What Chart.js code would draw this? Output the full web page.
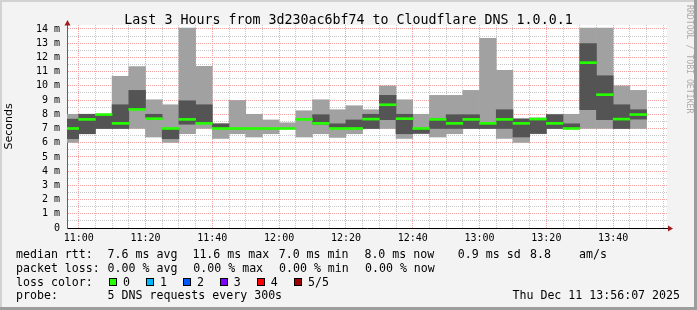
<!DOCTYPE html>
<html>
<head>
<meta charset="utf-8">
<script src="https://cdn.jsdelivr.net/npm/chart.js@4.4.1/dist/chart.umd.min.js"></script>
<style>
  html, body { margin: 0; padding: 0; background: #f3f3f3; }
</style>
</head>
<body>
<canvas id="smoke" width="697" height="310"></canvas>
<script>
// start of each 5 minute slot
var slots = ['10:55', '11:00', '11:05', '11:10', '11:15', '11:20', '11:25', '11:30', '11:35', '11:40',
             '11:45', '11:50', '11:55', '12:00', '12:05', '12:10', '12:15', '12:20', '12:25', '12:30',
             '12:35', '12:40', '12:45', '12:50', '12:55', '13:00', '13:05', '13:10', '13:15', '13:20',
             '13:25', '13:30', '13:35', '13:40', '13:45'];
var slotLength = 5; // minutes

// the 5 sorted pings per slot (ms)
var pingMin = [6.02, 6.63, 7.0, 7.0, 7.0, 6.4, 6.02, 6.63, 7.0, 6.3, 6.63, 6.4, 6.63, 7.0, 6.4, 6.63, 6.37, 6.63,
               7.0, 7.0, 6.3, 6.63, 6.4, 6.63, 7.0, 7.0, 6.3, 6.02, 6.63, 7.0, 7.0, 7.0, 7.0, 7.0, 7.0];
var ping2   = [6.28, 6.63, 7.0, 7.0, 8.34, 7.69, 6.28, 7.3, 7.36, 7.0, 7.0, 7.0, 7.0, 7.0, 7.64, 7.3, 7.0, 7.0,
               7.0, 7.62, 6.63, 6.66, 7.0, 7.0, 7.0, 7.0, 7.0, 6.4, 6.65, 7.0, 7.0, 8.32, 7.62, 7.0, 7.66];
var median  = [7.0, 7.64, 7.98, 7.36, 8.34, 7.69, 7.0, 7.64, 7.36, 7.0, 7.0, 7.0, 7.0, 7.0, 7.64, 7.36, 7.0, 7.0,
               7.66, 8.67, 7.69, 7.0, 7.64, 7.36, 7.64, 7.36, 7.64, 7.36, 7.66, 7.36, 7.0, 11.63, 9.38, 7.66, 7.98];
var ping4   = [7.66, 8.0, 8.0, 8.67, 9.68, 8.0, 7.0, 8.95, 8.67, 7.33, 7.0, 7.0, 7.0, 7.0, 7.64, 7.97, 7.33, 7.6,
               8.0, 9.33, 8.0, 7.0, 7.7, 7.97, 7.97, 7.4, 8.32, 7.66, 7.7, 7.97, 7.33, 12.97, 10.71, 8.67, 8.32];
var pingMax = [8.0, 8.0, 8.0, 10.67, 11.35, 9.02, 8.67, 14.07, 11.37, 7.33, 8.97, 8.0, 7.6, 7.4, 8.25, 9.02, 8.32, 8.6,
               8.32, 10.0, 9.02, 8.0, 9.33, 9.33, 9.68, 13.34, 11.09, 7.7, 7.75, 8.0, 8.0, 14.07, 14.07, 10.0, 9.68];

var timeFrom = '10:56:30';
var timeTo = '13:56:07';
var yMax = 14.28;
var medianHalf = 0.07; // half thickness of the median line (ms)

var titleText = 'Last 3 Hours from 3d230ac6bf74 to Cloudflare DNS 1.0.0.1';
var lossLabels = ['0', '1', '2', '3', '4', '5/5'];
var lossColors = ['#26ff00', '#00b8ff', '#0059ff', '#7e00ff', '#ff0000', '#a10000'];

//turn "hh:mm(:ss)" into minutes after midnight
function toMin(s) {
  var p = s.split(':');
  return (+p[0]) * 60 + (+p[1]) + (p[2] ? (+p[2]) / 60 : 0);
}
function hhmm(m) {
  var h = Math.floor(m / 60), mm = Math.round(m % 60);
  return (h < 10 ? '0' : '') + h + ':' + (mm < 10 ? '0' : '') + mm;
}

var centers = slots.map(function (s) { return toMin(s) + slotLength / 2; });
var outer = centers.map(function (x, i) { return {x: x, y: [pingMin[i], pingMax[i]]}; });
var inner = centers.map(function (x, i) { return {x: x, y: [ping2[i], ping4[i]]}; });
var medLine = centers.map(function (x, i) { return {x: x, y: [median[i] - medianHalf, median[i] + medianHalf]}; });

var mono = '"DejaVu Sans Mono", monospace';

//frame, texts and axis arrows like rrdtool draws them
var rrdLook = {
  id: 'rrdLook',
  beforeDraw: function (chart) {
    var c = chart.ctx, a = chart.chartArea;
    c.save();
    c.fillStyle = '#f3f3f3';
    c.fillRect(0, 0, 697, 310);
    c.fillStyle = '#d2d2d2';
    c.fillRect(0, 0, 697, 2);
    c.fillRect(0, 0, 2, 310);
    c.fillStyle = '#9d9d9d';
    c.fillRect(0, 307, 697, 3);
    c.fillRect(694, 0, 3, 310);
    c.fillStyle = '#ffffff';
    c.fillRect(a.left, a.top, a.right - a.left, a.bottom - a.top);
    c.restore();
  },
  afterDraw: function (chart) {
    var c = chart.ctx, a = chart.chartArea;
    c.save();
    // axis extensions + arrows
    c.strokeStyle = '#000';
    c.lineWidth = 1;
    c.beginPath();
    c.moveTo(a.right, a.bottom + 0.5);
    c.lineTo(a.right + 2, a.bottom + 0.5);
    c.stroke();
    c.strokeStyle = '#606060';
    c.beginPath();
    c.moveTo(a.left + 0.5, a.top);
    c.lineTo(a.left + 0.5, a.top - 3);
    c.stroke();
    c.fillStyle = '#a01c1c';
    c.beginPath();
    c.moveTo(a.right + 6, a.bottom + 0.5);
    c.lineTo(a.right + 1, a.bottom - 2.5);
    c.lineTo(a.right + 1, a.bottom + 3.5);
    c.closePath();
    c.fill();
    c.beginPath();
    c.moveTo(a.left + 0.5, a.top - 5);
    c.lineTo(a.left - 2.5, a.top + 0.5);
    c.lineTo(a.left + 3.5, a.top + 0.5);
    c.closePath();
    c.fill();

    // title
    c.fillStyle = '#000';
    c.font = '13.3px ' + mono;
    c.textAlign = 'center';
    c.textBaseline = 'alphabetic';
    c.fillText(titleText, 348.5, 23.7);

    // watermark
    c.save();
    c.translate(687, 5);
    c.rotate(Math.PI / 2);
    c.font = '8.2px ' + mono;
    c.fillStyle = '#ababab';
    c.textAlign = 'left';
    c.fillText('RRDTOOL / TOBI OETIKER', 0, 0);
    c.restore();

    // legend
    c.font = '11.6px ' + mono;
    c.textAlign = 'left';
    c.fillStyle = '#000';
    var rows = [
      [258, [[16, 'median rtt:'], [107.6, '7.6 ms avg'], [192.4, '11.6 ms max'], [278.7, '7.0 ms min'],
             [364.4, '8.0 ms now'], [457.8, '0.9 ms sd'], [530, '8.8'], [579, 'am/s']]],
      [271.7, [[16, 'packet loss:'], [107.6, '0.00 % avg'], [193.3, '0.00 % max'], [279, '0.00 % min'],
               [365, '0.00 % now']]],
      [285.5, [[16, 'loss color:']]],
      [299.2, [[16, 'probe:'], [107.6, '5 DNS requests every 300s']]]
    ];
    rows.forEach(function (r) {
      r[1].forEach(function (t) { c.fillText(t[1], t[0], r[0]); });
    });
    var boxX = [108.9, 145.8, 182.7, 220, 256.9, 293.8];
    var labX = [123.1, 160, 196.9, 233.8, 270.7, 308];
    for (var i = 0; i < lossLabels.length; i++) {
      c.fillStyle = lossColors[i];
      c.fillRect(Math.round(boxX[i]) + 0.5, 278.5, 7, 7);
      c.strokeStyle = '#000';
      c.strokeRect(Math.round(boxX[i]) + 0.5, 278.5, 7, 7);
      c.fillStyle = '#000';
      c.fillText(lossLabels[i], labX[i], 285.5);
    }
    c.textAlign = 'right';
    c.fillText('Thu Dec 11 13:56:07 2025', 680, 299.2);
    c.restore();
  }
};

var ctx = document.getElementById('smoke');
var smokeChart = new Chart(ctx, {
  type: 'bar',
  data: {
    datasets: [
      {label: 'outer', data: outer, backgroundColor: '#a1a1a1', order: 3},
      {label: 'inner', data: inner, backgroundColor: '#545454', order: 2},
      {label: 'median', data: medLine, backgroundColor: lossColors[0], order: 1}
    ]
  },
  options: {
    responsive: false,
    animation: false,
    devicePixelRatio: 1,
    layout: {padding: {left: 0, right: 30, top: 25, bottom: 0}},
    datasets: {
      bar: {grouped: false, barPercentage: 1, categoryPercentage: 1, borderWidth: 0}
    },
    plugins: {
      legend: {display: false},
      tooltip: {enabled: false}
    },
    scales: {
      x: {
        type: 'linear',
        offset: false,
        min: toMin(timeFrom),
        max: toMin(timeTo),
        afterFit: function (scale) { scale.height = 82; },
        grid: {
          offset: false,
          drawTicks: false,
          color: function (c) { return c.tick && Math.round(c.tick.value) % 20 === 0 ? '#f2a0a0' : '#c8c8c8'; }
        },
        border: {display: true, color: '#000', dash: [1, 1]},
        ticks: {
          stepSize: 5,
          includeBounds: false,
          autoSkip: false,
          maxRotation: 0,
          padding: 4,
          color: '#000',
          font: {family: mono, size: 10},
          callback: function (v) { return Math.round(v) % 20 === 0 ? hhmm(v) : ''; }
        }
      },
      y: {
        min: 0,
        max: yMax,
        afterFit: function (scale) { scale.width = 67; },
        grid: {
          drawTicks: false,
          color: function (c) { return c.tick && Math.abs(c.tick.value % 1) < 0.01 ? '#f2a0a0' : '#c8c8c8'; }
        },
        border: {display: true, color: '#606060', dash: [1, 1]},
        title: {
          display: true,
          text: 'Seconds',
          color: '#000',
          font: {family: '"DejaVu Sans", sans-serif', size: 11},
          padding: {top: 3, bottom: 0}
        },
        ticks: {
          stepSize: 0.5,
          includeBounds: false,
          autoSkip: false,
          padding: 7,
          color: '#000',
          font: {family: mono, size: 10},
          callback: function (v) {
            if (Math.abs(v % 1) > 0.01) return '';
            return v === 0 ? '0' : Math.round(v) + ' m';
          }
        }
      }
    }
  },
  plugins: [rrdLook]
});
</script>
</body>
</html>
